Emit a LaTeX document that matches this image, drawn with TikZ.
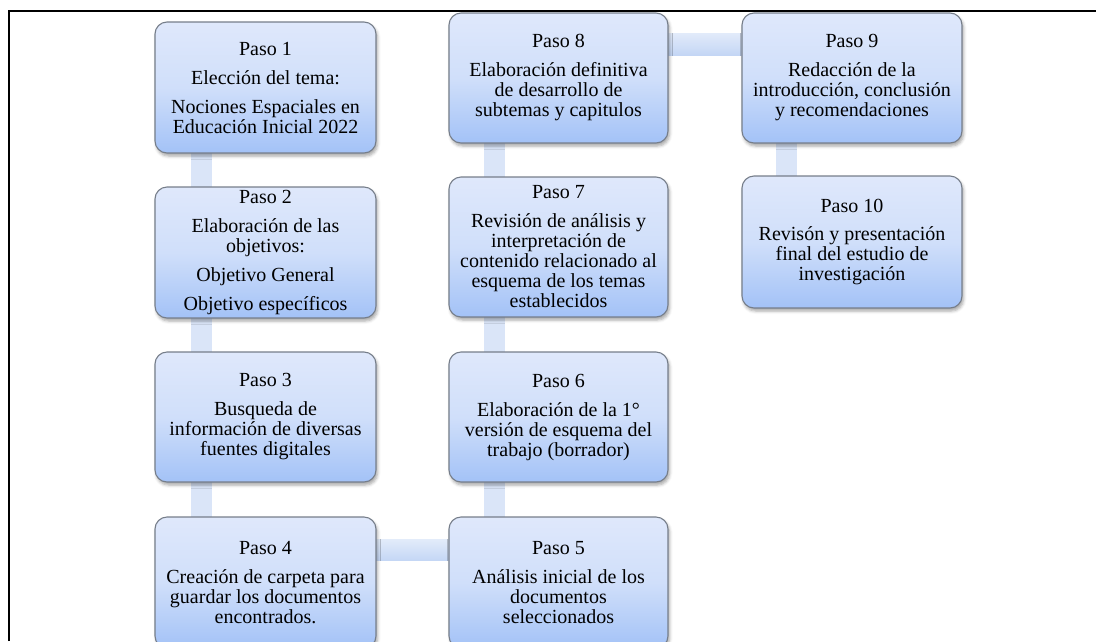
\documentclass[tikz,border=0pt]{standalone}
\usepackage{fontspec}
\setmainfont{Liberation Serif}
\usetikzlibrary{shadows.blur}
\definecolor{boxtop}{RGB}{223,232,251}
\definecolor{boxmid}{RGB}{208,223,250}
\definecolor{boxbot}{RGB}{163,194,247}
\definecolor{boxline}{RGB}{118,126,138}
\definecolor{barblue}{RGB}{218,229,248}
\definecolor{barlight}{RGB}{226,235,250}
\definecolor{bardark}{RGB}{196,214,245}
\pgfdeclarelayer{bg}
\pgfsetlayers{bg,main}
\begin{document}
\begin{tikzpicture}[x=1pt,y=-1pt,
  stepbox/.style={draw=boxline, line width=1.1pt, rounded corners=12pt,
    top color=boxtop, bottom color=boxbot, middle color=boxmid,
    align=center, inner sep=1pt, font=\fontsize{20}{20}\selectfont,
    blur shadow={shadow xshift=1.5pt, shadow yshift=-3pt,
      shadow blur radius=3pt, shadow opacity=35}},
  colA/.style={minimum width=221pt},
  colB/.style={minimum width=219pt},
  colC/.style={minimum width=220pt},
  vbar/.style={fill=barblue},
  hbar/.style={top color=barlight, bottom color=bardark}]
\useasboundingbox (0,0) rectangle (1096,641);
\clip (0,0) rectangle (1096,641);

% outer frame (left and top edges)
\draw[line width=2pt] (8.5,641) -- (8.5,11) -- (1096,11);

% column 1
\node[stepbox, colA, minimum height=131pt] (b1) at (265.5,87.5)
  {Paso 1\\[9pt]Elección del tema:\\[9pt]Nociones Espaciales en\\Educación Inicial 2022};
\node[stepbox, colA, minimum height=131pt] (b2) at (265.5,252.5)
  {Paso 2\\[9pt]Elaboración de las\\objetivos:\\[9pt]Objetivo General\\[9pt]Objetivo específicos};
\node[stepbox, colA, minimum height=130pt] (b3) at (265.5,417)
  {Paso 3\\[9pt]Busqueda de\\información de diversas\\fuentes digitales};
\node[stepbox, colA, minimum height=131pt] (b4) at (265.5,582.5)
  {Paso 4\\[9pt]Creación de carpeta para\\guardar los documentos\\encontrados.};

% column 2
\node[stepbox, colB, minimum height=131pt] (b5) at (558.5,582.5)
  {Paso 5\\[9pt]Análisis inicial de los\\documentos\\seleccionados};
\node[stepbox, colB, minimum height=130pt] (b6) at (558.5,417)
  {Paso 6\\[9pt]Elaboración de la 1°\\versión de esquema del\\trabajo (borrador)};
\node[stepbox, colB, minimum height=140pt] (b7) at (558.5,247)
  {Paso 7\\[9pt]Revisión de análisis y\\interpretación de\\contenido relacionado al\\esquema de los temas\\establecidos};
\node[stepbox, colB, minimum height=130pt] (b8) at (558.5,78)
  {Paso 8\\[9pt]Elaboración definitiva\\de desarrollo de\\subtemas y capitulos};

% column 3
\node[stepbox, colC, minimum height=130pt] (b9) at (852,78)
  {Paso 9\\[9pt]Redacción de la\\introducción, conclusión\\y recomendaciones};
\node[stepbox, colC, minimum height=132pt] (b10) at (852,242)
  {Paso 10\\[9pt]Revisón y presentación\\final del estudio de\\investigación};

% connecting bars behind the boxes
\begin{pgfonlayer}{bg}
  \fill[vbar] ([xshift=-75pt,yshift=4pt]b1.south) rectangle ([xshift=-54pt,yshift=-4pt]b2.north);
  \fill[vbar] ([xshift=-75pt,yshift=4pt]b2.south) rectangle ([xshift=-54pt,yshift=-4pt]b3.north);
  \fill[vbar] ([xshift=-75pt,yshift=4pt]b3.south) rectangle ([xshift=-54pt,yshift=-4pt]b4.north);
  \path[hbar] ([xshift=-4pt,yshift=43pt]b4.east) rectangle ([xshift=4pt,yshift=22pt]b5.west);
  \fill[vbar] ([xshift=-75pt,yshift=4pt]b6.south) rectangle ([xshift=-54pt,yshift=-4pt]b5.north);
  \fill[vbar] ([xshift=-75pt,yshift=4pt]b7.south) rectangle ([xshift=-54pt,yshift=-4pt]b6.north);
  \fill[vbar] ([xshift=-75pt,yshift=4pt]b8.south) rectangle ([xshift=-54pt,yshift=-4pt]b7.north);
  \path[hbar] ([xshift=-4pt,yshift=45pt]b8.east) rectangle ([xshift=4pt,yshift=23pt]b9.west);
  \fill[vbar] ([xshift=-76pt,yshift=4pt]b9.south) rectangle ([xshift=-55pt,yshift=-4pt]b10.north);
\end{pgfonlayer}
\end{tikzpicture}
\end{document}
